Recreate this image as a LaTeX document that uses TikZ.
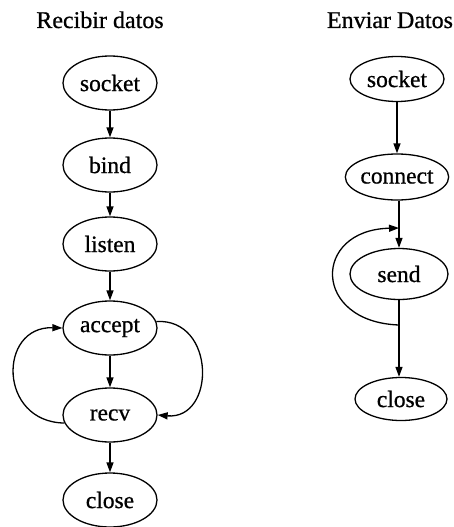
\documentclass[tikz,border=0pt]{standalone}
\usepackage{fontspec}
\setmainfont{Liberation Serif}[FakeBold=0.7]
\usetikzlibrary{shapes.geometric,arrows.meta}
\tikzset{
  call/.style={ellipse, draw, line width=1.3pt, inner sep=0pt,
    minimum width=94pt, minimum height=#1, font=\fontsize{23.5}{25}\selectfont},
  call/.default=54pt,
  flow/.style={line width=1.3pt, -{Triangle[length=10pt,width=7pt]}},
  heading/.style={font=\fontsize{24}{26}\selectfont, anchor=base}
}
\begin{document}
\begin{tikzpicture}[x=1pt,y=-1pt]
  \useasboundingbox (0,0) rectangle (454,527);
  \fill[white] (0,0) rectangle (454,527);

  % receiving side
  \node[heading] (tr) at (100,28) {Recibir datos};
  \node[call] (s1) at (110,83)  {socket};
  \node[call] (b1) at (110,165) {bind};
  \node[call] (l1) at (110,244) {listen};
  \node[call] (a1) at (110,328) {accept};
  \node[call] (r1) at (110,415) {recv};
  \node[call] (c1) at (110,500) {close};

  \draw[flow] (s1) -- (b1);
  \draw[flow] (b1) -- (l1);
  \draw[flow] (l1) -- (a1);
  \draw[flow] (a1) -- (r1);
  \draw[flow] (r1) -- (c1);
  \draw[flow] (r1.190) .. controls (-2,422) and (-2,326) .. (a1.west);
  \draw[flow] (a1.8) .. controls (216,318) and (216,420) .. (r1.east);

  % sending side
  \node[heading] (ts) at (390,28) {Enviar Datos};
  \node[call=45pt] (s2) at (397,79)  {socket};
  \node[call=46pt] (c2) at (397,177) {connect};
  \node[call=51pt,minimum width=98pt] (n2) at (399,274) {send};
  \node[call=43pt,minimum width=92pt] (k2) at (401,399) {close};

  \coordinate (j1) at (399,228);
  \coordinate (j2) at (399,325);

  \draw[flow] (s2) -- (c2);
  \draw[flow] (c2.south -| n2) -- (n2);
  \draw[flow] (n2) -- (k2.north -| n2);
  \draw[flow] (j2) .. controls (312,322) and (312,230) .. (j1);
\end{tikzpicture}
\end{document}
